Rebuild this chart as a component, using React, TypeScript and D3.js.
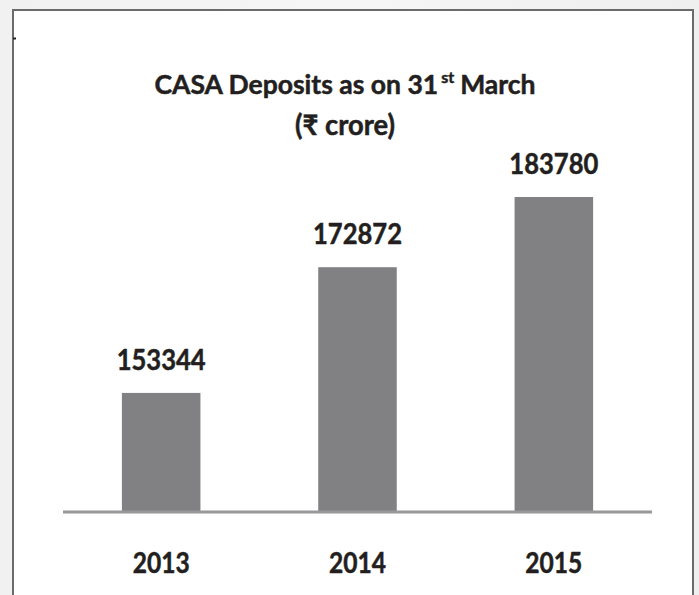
import React, { useLayoutEffect, useRef, useState } from "react";
import * as d3 from "d3";

const years = ["2013", "2014", "2015"];
const casaValues = [153344, 172872, 183780];
const titleMain = "CASA Deposits as on 31";
const titleSup = "st";
const titleEnd = "March";
const subtitle = "(₹ crore)";

const W = 699;
const H = 595;
const FONT = "Lato, 'Open Sans', sans-serif";
const TEXT = "#231f20";
const WEIGHT = 700;

const textStyle = {
  fontFamily: FONT,
  fontWeight: WEIGHT,
  fill: TEXT,
  stroke: TEXT,
  strokeWidth: 0.5,
} as const;

export default function App() {
  const x = d3.scaleBand<string>().domain(years).range([63, 652]).paddingInner(0.6).paddingOuter(0.3);
  const y = d3.scaleLinear().domain([135000, 183780]).range([511, 197]);

  const mainRef = useRef<SVGTextElement>(null);
  const supRef = useRef<SVGTextElement>(null);
  const endRef = useRef<SVGTextElement>(null);
  const [widths, setWidths] = useState({ main: 283, sup: 16, end: 64 });

  useLayoutEffect(() => {
    if (mainRef.current && supRef.current && endRef.current) {
      setWidths({
        main: mainRef.current.getComputedTextLength(),
        sup: supRef.current.getComputedTextLength(),
        end: endRef.current.getComputedTextLength(),
      });
    }
  }, []);

  const total = widths.main + 3 + widths.sup + 6 + widths.end;
  const startX = 345 - total / 2;
  const supX = startX + widths.main + 3;
  const endX = supX + widths.sup + 6;

  return (
    <svg width={W} height={H} style={{ position: "absolute", left: 0, top: 0 }}>
      <defs>
        <linearGradient id="bg" x1="0" x2="1" y1="0" y2="0">
          <stop offset="0" stopColor="#f1f1f2" />
          <stop offset="0.5" stopColor="#f6f6f7" />
          <stop offset="1" stopColor="#efeff0" />
        </linearGradient>
      </defs>
      <rect x={0} y={0} width={W} height={H} fill="url(#bg)" />
      <rect x={13} y={10} width={680} height={H + 10} fill="#ffffff" stroke="#6b6b6d" strokeWidth={2} />
      <line x1={13} x2={16} y1={38.5} y2={38.5} stroke="#222" strokeWidth={2} />

      <text ref={mainRef} x={startX} y={94} {...textStyle} fontSize={26.5}>
        {titleMain}
      </text>
      <text ref={supRef} x={supX} y={83} {...textStyle} fontSize={16}>
        {titleSup}
      </text>
      <text ref={endRef} x={endX} y={94} {...textStyle} fontSize={26.5}>
        {titleEnd}
      </text>
      <text x={345} y={135} textAnchor="middle" {...textStyle} fontSize={28} textLength={100}
        lengthAdjust="spacingAndGlyphs">
        {subtitle}
      </text>

      {years.map((yr, i) => {
        const bx = x(yr) as number;
        const cx = bx + x.bandwidth() / 2;
        const top = y(casaValues[i]);
        return (
          <g key={yr}>
            <rect x={bx} y={top} width={x.bandwidth()} height={y(135000) - top} fill="#818184" />
            <text x={cx} y={top - 23} textAnchor="middle" {...textStyle} fontSize={29} textLength={89}
              lengthAdjust="spacingAndGlyphs">
              {casaValues[i]}
            </text>
            <text x={cx} y={573} textAnchor="middle" {...textStyle} fontSize={28} textLength={57}
              lengthAdjust="spacingAndGlyphs">
              {yr}
            </text>
          </g>
        );
      })}

      <line x1={63} x2={652} y1={512} y2={512} stroke="#98989b" strokeWidth={3} />
    </svg>
  );
}
